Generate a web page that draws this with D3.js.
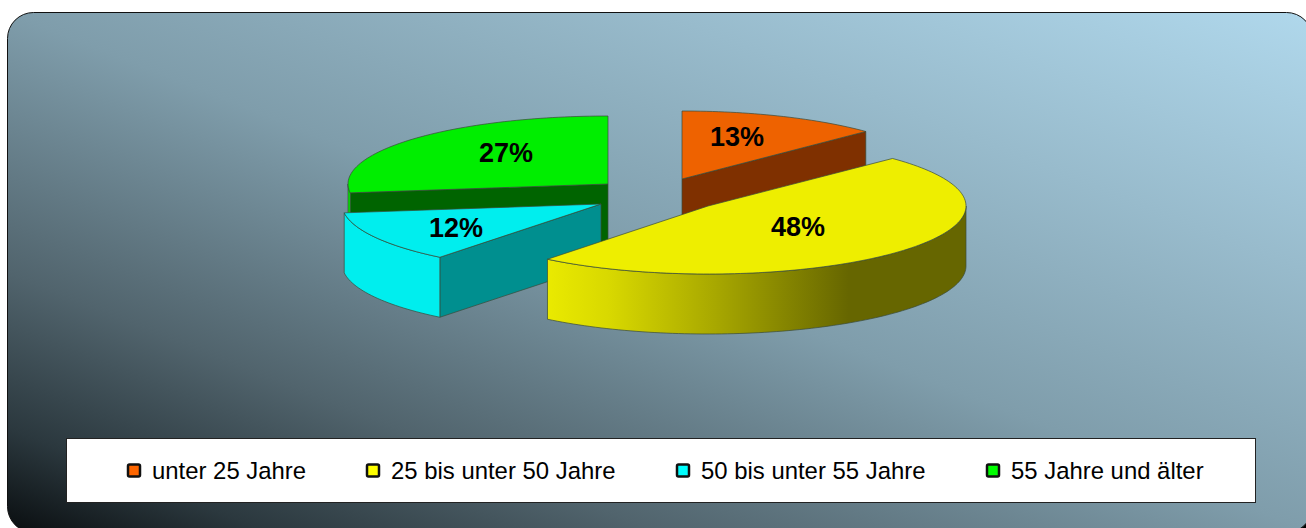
<!DOCTYPE html>
<html><head><meta charset="utf-8">
<script src="https://cdn.jsdelivr.net/npm/d3@7"></script>
<style>html,body{margin:0;padding:0;background:#fff}svg{display:block}</style></head>
<body><svg id="c" width="1306" height="528"></svg>
<script>
const categories = ["unter 25 Jahre","25 bis unter 50 Jahre","50 bis unter 55 Jahre","55 Jahre und älter"];
const values = [13,48,12,27];
const labels = ["13%","48%","12%","27%"];
const topColors = ["#ee6200","#eeee00","#00eeee","#00ee00"];
const legendColors = ["#ff6600","#ffff00","#00ffff","#00ff00"];
const faceColors = ["#7f3000","#666600","#008f8f","#006400"];

const RY=68,DEPTH=60;
const radii=[257,258,259,260];
const centres=[[682,179],[708,206],[601,204],[608,184]];
const labelPos=[[737,136],[798,226],[456,227],[506,152]];
const svg=d3.select("#c");
const defs=svg.append("defs");
const bg=defs.append("linearGradient").attr("id","bg")
 .attr("x1",0).attr("y1",1).attr("x2",1).attr("y2",0);
[[0,"#090d0f"],[0.1,"#2b383e"],[0.25,"#51646d"],[0.5,"#7f9dab"],[0.75,"#98bbcc"],[1,"#b0d8ec"]]
 .forEach(s=>bg.append("stop").attr("offset",s[0]).attr("stop-color",s[1]));
svg.append("rect").attr("x",1285).attr("y",505).attr("width",21).attr("height",23).attr("fill","#000");
svg.append("rect").attr("x",7.5).attr("y",12.5).attr("width",1305).attr("height",520).attr("rx",26)
 .attr("fill","url(#bg)").attr("stroke","#111").attr("stroke-width",1);

const arcs=d3.pie().sort(null).value(d=>d)(values);
// slight foreshortening of the view angle, as in the source's 3-D projection
const warp=a=>a-0.02*Math.sin(2*a);
const pt=(c,r,a,dy=0)=>[c[0]+r*Math.sin(warp(a)),c[1]-RY*Math.cos(warp(a))+dy];
const line=d3.line();
const sample=(a0,a1)=>{const n=Math.max(2,Math.ceil(Math.abs(a1-a0)*40));return d3.range(n+1).map(i=>a0+(a1-a0)*i/n);};
const edge="#3a4a3a";

const yg=defs.append("linearGradient").attr("id","rim").attr("gradientUnits","userSpaceOnUse")
 .attr("x1",547).attr("y1",0).attr("x2",966).attr("y2",0);
[[0,"#eaea00"],[0.15,"#d8d800"],[0.4,"#a8a800"],[0.72,"#666600"],[1,"#666600"]]
 .forEach(s=>yg.append("stop").attr("offset",s[0]).attr("stop-color",s[1]));

const order=[0,3,2,1];
const faceAngle={0:"endAngle",2:"startAngle",3:"startAngle"};
order.forEach(i=>{
  const c=centres[i],a=arcs[i],r=radii[i],g=svg.append("g");
  const s=a.startAngle,e=a.endAngle;
  if(faceAngle[i]){
    const p=pt(c,r,a[faceAngle[i]]);
    g.append("path").attr("d",line([c,p,[p[0],p[1]+DEPTH],[c[0],c[1]+DEPTH]])+"Z")
     .attr("fill",faceColors[i]).attr("stroke",edge).attr("stroke-width",.7);
  }
  const r0=Math.max(s,Math.PI/2),r1=Math.min(e,Math.PI*1.5);
  if(r1>r0){
    const up=sample(r0,r1).map(t=>pt(c,r,t));
    const dn=sample(r1,r0).map(t=>pt(c,r,t,DEPTH));
    g.append("path").attr("d",line(up.concat(dn))+"Z")
     .attr("fill",i===1?"url(#rim)":topColors[i]).attr("stroke",edge).attr("stroke-width",.7);
  }
  const top=[c].concat(sample(s,e).map(t=>pt(c,r,t)));
  g.append("path").attr("d",line(top)+"Z").attr("fill",topColors[i]).attr("stroke",edge).attr("stroke-width",.7);
  g.append("text").attr("x",labelPos[i][0]).attr("y",labelPos[i][1]).attr("dy","0.36em").attr("text-anchor","middle")
   .attr("font-family","Liberation Sans").attr("font-weight","bold").attr("font-size",27).attr("fill","#000").text(labels[i]);
});

svg.append("rect").attr("x",66.5).attr("y",438.5).attr("width",1189).attr("height",64).attr("fill","#fff").attr("stroke","#222").attr("stroke-width",1);
const lx=[127,366,676,986];
categories.forEach((t,i)=>{
  svg.append("rect").attr("x",lx[i]+1).attr("y",464.5).attr("width",12).attr("height",12).attr("rx",1.5)
    .attr("fill",legendColors[i]).attr("stroke","#111").attr("stroke-width",2.5);
  svg.append("text").attr("x",lx[i]+25).attr("y",470).attr("dy","0.36em").attr("font-family","Liberation Sans")
    .attr("font-size",23.9).attr("fill","#000").text(t);
});
</script></body></html>
